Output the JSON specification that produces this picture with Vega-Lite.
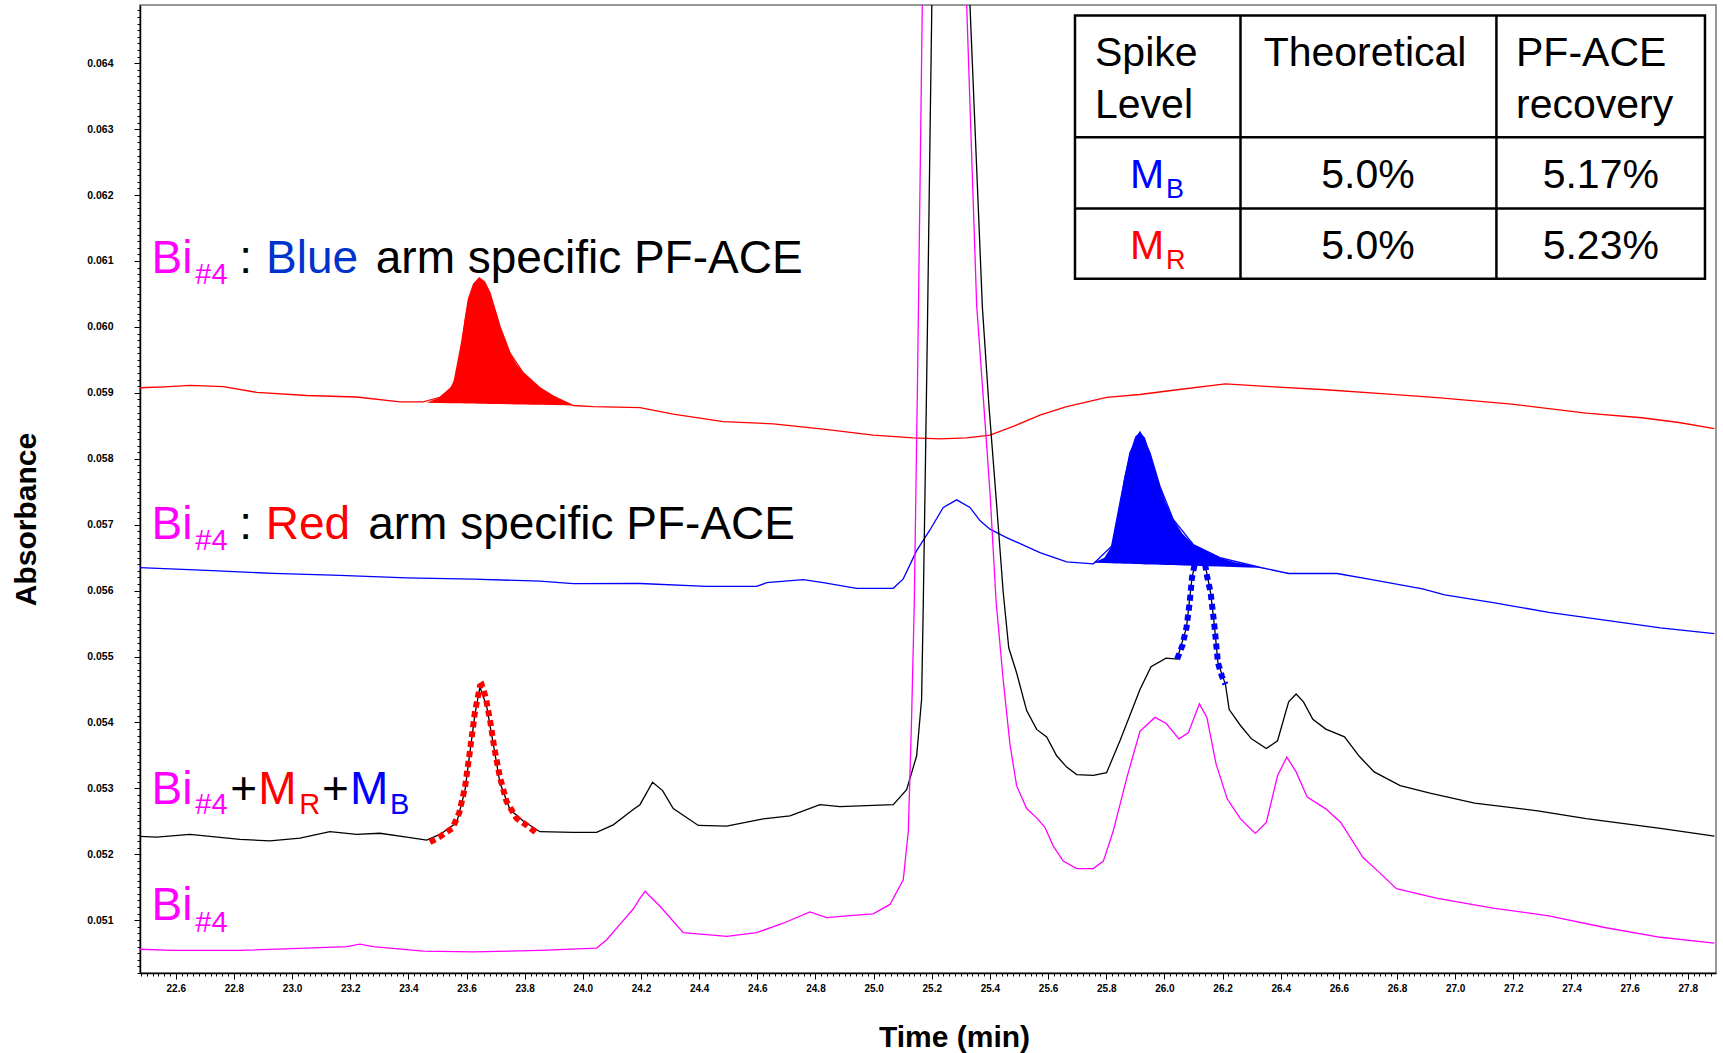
{
"$schema": "https://vega.github.io/schema/vega-lite/v6.json",
"width": 1576, "height": 968,
"autosize": "none",
"padding": {"left": 140, "top": 5, "right": 7, "bottom": 80},
"background": "white",
"config": {"view": {"stroke": "#777777", "strokeWidth": 1.5}, "font": "Liberation Sans"},
"datasets": {
"red": [{"t":22.4768,"a":0.059077},{"t":22.5622,"a":0.059092},{"t":22.6488,"a":0.059112},{"t":22.7633,"a":0.059093},{"t":22.8782,"a":0.059007},{"t":23.0501,"a":0.05896},{"t":23.2221,"a":0.058937},{"t":23.371,"a":0.058862},{"t":23.4511,"a":0.058862},{"t":23.5085,"a":0.058933},{"t":23.5543,"a":0.059102},{"t":23.583,"a":0.05976},{"t":23.6061,"a":0.060417},{"t":23.6242,"a":0.06065},{"t":23.6438,"a":0.060745},{"t":23.662,"a":0.060683},{"t":23.6805,"a":0.060518},{"t":23.7149,"a":0.060012},{"t":23.7493,"a":0.059608},{"t":23.795,"a":0.059305},{"t":23.8525,"a":0.059077},{"t":23.8982,"a":0.05895},{"t":23.9417,"a":0.058858},{"t":23.967,"a":0.058808},{"t":24.0361,"a":0.058792},{"t":24.1964,"a":0.058775},{"t":24.3109,"a":0.058678},{"t":24.4828,"a":0.058563},{"t":24.6548,"a":0.05853},{"t":24.8268,"a":0.05845},{"t":24.9987,"a":0.058358},{"t":25.1363,"a":0.058318},{"t":25.2281,"a":0.058302},{"t":25.32,"a":0.058318},{"t":25.4001,"a":0.058358},{"t":25.4802,"a":0.05849},{"t":25.572,"a":0.058662},{"t":25.6638,"a":0.058792},{"t":25.8014,"a":0.05893},{"t":25.9159,"a":0.058975},{"t":26.0437,"a":0.059047},{"t":26.21,"a":0.059135},{"t":26.3634,"a":0.059093},{"t":26.555,"a":0.059047},{"t":26.747,"a":0.058987},{"t":26.9386,"a":0.058928},{"t":27.1945,"a":0.058828},{"t":27.4504,"a":0.058692},{"t":27.642,"a":0.058622},{"t":27.7697,"a":0.05855},{"t":27.8914,"a":0.058457}],
"redfill": [{"t":23.4628,"a":0.05885,"b":0.05885},{"t":23.5085,"a":0.058933,"b":0.058846},{"t":23.5429,"a":0.059067,"b":0.058844},{"t":23.5599,"a":0.059217,"b":0.058843},{"t":23.5713,"a":0.059467,"b":0.058842},{"t":23.583,"a":0.05976,"b":0.058841},{"t":23.594,"a":0.060133,"b":0.05884},{"t":23.6061,"a":0.060417,"b":0.058839},{"t":23.6242,"a":0.06065,"b":0.058837},{"t":23.6438,"a":0.060745,"b":0.058835},{"t":23.662,"a":0.060683,"b":0.058834},{"t":23.6805,"a":0.060518,"b":0.058832},{"t":23.696,"a":0.0603,"b":0.058831},{"t":23.7149,"a":0.060012,"b":0.058829},{"t":23.7493,"a":0.059608,"b":0.058826},{"t":23.7716,"a":0.059433,"b":0.058825},{"t":23.795,"a":0.059305,"b":0.058823},{"t":23.8283,"a":0.059167,"b":0.05882},{"t":23.8525,"a":0.059077,"b":0.058818},{"t":23.8982,"a":0.05895,"b":0.058814},{"t":23.9417,"a":0.058858,"b":0.058811},{"t":23.967,"a":0.058808,"b":0.058808}],
"blue": [{"t":22.4768,"a":0.056348},{"t":22.7058,"a":0.056307},{"t":22.9352,"a":0.056262},{"t":23.1646,"a":0.056232},{"t":23.394,"a":0.056192},{"t":23.6231,"a":0.056173},{"t":23.8525,"a":0.056145},{"t":23.967,"a":0.056105},{"t":24.1964,"a":0.056108},{"t":24.4258,"a":0.056063},{"t":24.5977,"a":0.056063},{"t":24.6321,"a":0.05612},{"t":24.758,"a":0.056167},{"t":24.8268,"a":0.05612},{"t":24.9417,"a":0.056035},{"t":25.0675,"a":0.056035},{"t":25.1019,"a":0.056178},{"t":25.148,"a":0.056607},{"t":25.1937,"a":0.05692},{"t":25.2395,"a":0.057262},{"t":25.2856,"a":0.057377},{"t":25.3313,"a":0.057262},{"t":25.3657,"a":0.057063},{"t":25.4001,"a":0.056932},{"t":25.4572,"a":0.056805},{"t":25.572,"a":0.056577},{"t":25.6638,"a":0.056435},{"t":25.7557,"a":0.056407},{"t":25.8185,"a":0.056675},{"t":25.8472,"a":0.057333},{"t":25.8816,"a":0.058092},{"t":25.9159,"a":0.058405},{"t":25.9503,"a":0.058092},{"t":25.9847,"a":0.057585},{"t":26.0305,"a":0.05708},{"t":26.0992,"a":0.0567},{"t":26.1911,"a":0.0565},{"t":26.3343,"a":0.056347},{"t":26.4273,"a":0.05626},{"t":26.5936,"a":0.05626},{"t":26.7085,"a":0.056172},{"t":26.8876,"a":0.056025},{"t":26.9643,"a":0.055937},{"t":27.1306,"a":0.055818},{"t":27.3222,"a":0.05567},{"t":27.5142,"a":0.055553},{"t":27.7058,"a":0.055435},{"t":27.8914,"a":0.055347}],
"bluefill": [{"t":25.7553,"a":0.056423,"b":0.056423},{"t":25.7935,"a":0.0565,"b":0.056418},{"t":25.8185,"a":0.056675,"b":0.056415},{"t":25.8313,"a":0.056967,"b":0.056413},{"t":25.8472,"a":0.057333,"b":0.05641},{"t":25.8615,"a":0.057717,"b":0.056408},{"t":25.8816,"a":0.058092,"b":0.056407},{"t":25.8993,"a":0.058333,"b":0.056403},{"t":25.9159,"a":0.058405,"b":0.056402},{"t":25.9333,"a":0.058317,"b":0.056398},{"t":25.9503,"a":0.058092,"b":0.056397},{"t":25.9674,"a":0.057833,"b":0.056395},{"t":25.9847,"a":0.057585,"b":0.056392},{"t":26.0051,"a":0.057333,"b":0.05639},{"t":26.0305,"a":0.05708,"b":0.056387},{"t":26.0618,"a":0.056867,"b":0.056382},{"t":26.0992,"a":0.0567,"b":0.056377},{"t":26.1461,"a":0.0566,"b":0.05637},{"t":26.1911,"a":0.0565,"b":0.056365},{"t":26.2357,"a":0.056437,"b":0.056358},{"t":26.2848,"a":0.056392,"b":0.056352},{"t":26.3343,"a":0.056347,"b":0.056347}],
"black": [{"t":22.4768,"a":0.052273},{"t":22.5342,"a":0.052262},{"t":22.6488,"a":0.052302},{"t":22.8207,"a":0.052227},{"t":22.9239,"a":0.052203},{"t":23.0271,"a":0.052245},{"t":23.1302,"a":0.052343},{"t":23.2221,"a":0.052302},{"t":23.3022,"a":0.05232},{"t":23.394,"a":0.052262},{"t":23.4628,"a":0.052215},{"t":23.5085,"a":0.052302},{"t":23.566,"a":0.052477},{"t":23.5947,"a":0.05297},{"t":23.6117,"a":0.05355},{"t":23.6291,"a":0.05413},{"t":23.6461,"a":0.054537},{"t":23.6692,"a":0.054247},{"t":23.6922,"a":0.053667},{"t":23.7149,"a":0.053085},{"t":23.7493,"a":0.05268},{"t":23.795,"a":0.052505},{"t":23.8525,"a":0.052343},{"t":23.967,"a":0.052332},{"t":24.0471,"a":0.052332},{"t":24.1045,"a":0.052447},{"t":24.1733,"a":0.05268},{"t":24.1964,"a":0.052753},{"t":24.2398,"a":0.053095},{"t":24.2742,"a":0.052967},{"t":24.3109,"a":0.052695},{"t":24.3971,"a":0.052438},{"t":24.4946,"a":0.052427},{"t":24.6204,"a":0.052537},{"t":24.7123,"a":0.052582},{"t":24.8154,"a":0.052753},{"t":24.8842,"a":0.052725},{"t":25.0675,"a":0.052753},{"t":25.1136,"a":0.052982},{"t":25.148,"a":0.053495},{"t":25.165,"a":0.054352},{"t":25.1707,"a":0.055778},{"t":25.1767,"a":0.05749},{"t":25.185,"a":0.059967},{"t":25.1926,"a":0.062467},{"t":25.2002,"a":0.064883},{"t":25.2644,"a":0.0683},{"t":25.3313,"a":0.064883},{"t":25.374,"a":0.0603},{"t":25.3967,"a":0.0588},{"t":25.4231,"a":0.0573},{"t":25.4458,"a":0.055967},{"t":25.4647,"a":0.055133},{"t":25.4919,"a":0.05475},{"t":25.5263,"a":0.05418},{"t":25.5607,"a":0.053895},{"t":25.5951,"a":0.05378},{"t":25.6295,"a":0.053495},{"t":25.6638,"a":0.053323},{"t":25.6983,"a":0.05321},{"t":25.7557,"a":0.053198},{"t":25.8011,"a":0.053238},{"t":25.8472,"a":0.053723},{"t":25.8929,"a":0.054237},{"t":25.9159,"a":0.0545},{"t":25.9541,"a":0.054845},{"t":26.0055,"a":0.054975},{"t":26.0437,"a":0.054962},{"t":26.0758,"a":0.055435},{"t":26.0951,"a":0.056202},{"t":26.1072,"a":0.056433},{"t":26.1223,"a":0.05655},{"t":26.1374,"a":0.056433},{"t":26.1435,"a":0.05632},{"t":26.159,"a":0.055967},{"t":26.1714,"a":0.055493},{"t":26.1843,"a":0.054903},{"t":26.21,"a":0.054578},{"t":26.2228,"a":0.054195},{"t":26.261,"a":0.053958},{"t":26.2995,"a":0.053752},{"t":26.3506,"a":0.053605},{"t":26.3891,"a":0.053723},{"t":26.4273,"a":0.054313},{"t":26.453,"a":0.054432},{"t":26.4783,"a":0.054313},{"t":26.5105,"a":0.054047},{"t":26.555,"a":0.0539},{"t":26.6193,"a":0.053782},{"t":26.6703,"a":0.053487},{"t":26.7213,"a":0.05325},{"t":26.8109,"a":0.053043},{"t":26.9133,"a":0.052927},{"t":27.0668,"a":0.052778},{"t":27.2841,"a":0.05266},{"t":27.4504,"a":0.052543},{"t":27.7058,"a":0.052395},{"t":27.8914,"a":0.052277}],
"magenta": [{"t":22.4768,"a":0.05056},{"t":22.5913,"a":0.050543},{"t":22.8207,"a":0.050543},{"t":23.0501,"a":0.050578},{"t":23.1877,"a":0.0506},{"t":23.2334,"a":0.050637},{"t":23.2791,"a":0.0506},{"t":23.4511,"a":0.050532},{"t":23.6231,"a":0.05052},{"t":23.8525,"a":0.050543},{"t":24.0475,"a":0.050578},{"t":24.0819,"a":0.050705},{"t":24.1276,"a":0.050938},{"t":24.1733,"a":0.05117},{"t":24.1964,"a":0.051333},{"t":24.2138,"a":0.05144},{"t":24.2652,"a":0.051212},{"t":24.3453,"a":0.050812},{"t":24.4258,"a":0.050783},{"t":24.4946,"a":0.050755},{"t":24.5977,"a":0.050812},{"t":24.6892,"a":0.050955},{"t":24.781,"a":0.051127},{"t":24.8385,"a":0.05104},{"t":24.9073,"a":0.051068},{"t":24.9987,"a":0.051097},{"t":25.0562,"a":0.05124},{"t":25.1019,"a":0.051612},{"t":25.1193,"a":0.052353},{"t":25.1306,"a":0.054067},{"t":25.1397,"a":0.055783},{"t":25.151,"a":0.0592},{"t":25.1605,"a":0.062467},{"t":25.1673,"a":0.064883},{"t":25.2455,"a":0.0683},{"t":25.32,"a":0.064883},{"t":25.3544,"a":0.060325},{"t":25.3827,"a":0.058583},{"t":25.4005,"a":0.057467},{"t":25.4212,"a":0.055833},{"t":25.4458,"a":0.054637},{"t":25.4689,"a":0.053667},{"t":25.4919,"a":0.053038},{"t":25.5263,"a":0.052695},{"t":25.5607,"a":0.052553},{"t":25.5891,"a":0.05241},{"t":25.6178,"a":0.052125},{"t":25.6522,"a":0.051897},{"t":25.6983,"a":0.051783},{"t":25.7557,"a":0.051783},{"t":25.7901,"a":0.051897},{"t":25.8241,"a":0.052353},{"t":25.8702,"a":0.053152},{"t":25.9159,"a":0.053867},{"t":25.9674,"a":0.054077},{"t":26.0055,"a":0.053988},{"t":26.0501,"a":0.053752},{"t":26.0822,"a":0.053842},{"t":26.1204,"a":0.054283},{"t":26.1461,"a":0.054077},{"t":26.1778,"a":0.053368},{"t":26.2164,"a":0.052838},{"t":26.261,"a":0.052542},{"t":26.3124,"a":0.052318},{"t":26.3506,"a":0.052483},{"t":26.3891,"a":0.053192},{"t":26.4209,"a":0.053475},{"t":26.453,"a":0.05325},{"t":26.4912,"a":0.052867},{"t":26.555,"a":0.05269},{"t":26.6065,"a":0.052483},{"t":26.6832,"a":0.051952},{"t":26.7342,"a":0.051745},{"t":26.7981,"a":0.05148},{"t":26.9386,"a":0.051333},{"t":27.1306,"a":0.051185},{"t":27.3222,"a":0.051067},{"t":27.5142,"a":0.05089},{"t":27.7058,"a":0.050742},{"t":27.8914,"a":0.050653}],
"reddot": [{"t":23.4742,"a":0.052185},{"t":23.5085,"a":0.052267},{"t":23.5524,"a":0.0524},{"t":23.5751,"a":0.052633},{"t":23.5947,"a":0.053017},{"t":23.6117,"a":0.053567},{"t":23.6291,"a":0.054167},{"t":23.6461,"a":0.05455},{"t":23.6525,"a":0.054567},{"t":23.6658,"a":0.054383},{"t":23.6809,"a":0.054033},{"t":23.696,"a":0.0536},{"t":23.7149,"a":0.053167},{"t":23.7376,"a":0.0528},{"t":23.7716,"a":0.05255},{"t":23.8094,"a":0.052433},{"t":23.8468,"a":0.052302}],
"bluedot": [{"t":26.0437,"a":0.054962},{"t":26.0618,"a":0.055167},{"t":26.0758,"a":0.055435},{"t":26.0864,"a":0.0558},{"t":26.0951,"a":0.056202},{"t":26.1072,"a":0.056467},{"t":26.1223,"a":0.05655},{"t":26.1374,"a":0.056467},{"t":26.1469,"a":0.056217},{"t":26.159,"a":0.055967},{"t":26.1714,"a":0.055493},{"t":26.1843,"a":0.054903},{"t":26.1979,"a":0.0547},{"t":26.21,"a":0.054578}]
},
"layer": [
{"data": {"name": "red"}, "mark": {"type": "line", "color": "#FF0000", "strokeWidth": 1.3, "clip": true},
 "encoding": {
  "x": {"field": "t", "type": "quantitative", "scale": {"domain": [22.477, 27.897], "nice": false, "zero": false},
   "axis": {"title": "Time (min)", "tickCount": 271, "grid": false, "labelOverlap": false,
    "labelExpr": "abs(datum.value*5 - round(datum.value*5)) < 0.01 ? format(datum.value, '.1f') : ''",
    "tickSize": {"condition": {"test": "abs(datum.value*5 - round(datum.value*5)) < 0.01", "value": 6}, "value": 3},
    "labelFont": "Liberation Sans", "labelFontSize": 10, "labelFontWeight": "bold", "labelColor": "#000000", "labelPadding": 4,
    "tickColor": "#000000", "domainColor": "#000000", "domainWidth": 1.5,
    "titleFont": "Liberation Sans", "titleFontSize": 30, "titleFontWeight": "bold", "titleColor": "#000000",
    "titleX": 814, "titleY": 73, "titleAlign": "center", "titleBaseline": "alphabetic"}},
  "y": {"field": "a", "type": "quantitative", "scale": {"domain": [0.0502, 0.064883], "nice": false, "zero": false},
   "axis": {"title": "Absorbance", "tickCount": 147, "grid": false, "labelOverlap": false,
    "labelExpr": "abs(datum.value*1000 - round(datum.value*1000)) < 0.01 ? format(datum.value, '.3f') : ''",
    "tickSize": {"condition": {"test": "abs(datum.value*1000 - round(datum.value*1000)) < 0.01", "value": 6}, "value": 3},
    "labelFont": "Liberation Sans", "labelFontSize": 10.5, "labelFontWeight": "bold", "labelColor": "#000000", "labelPadding": 21,
    "tickColor": "#000000", "domainColor": "#000000", "domainWidth": 1.5,
    "titleFont": "Liberation Sans", "titleFontSize": 30, "titleFontWeight": "bold", "titleColor": "#000000",
    "titleAngle": -90, "titleX": -114, "titleY": 514, "titleAlign": "center", "titleBaseline": "middle"}}}},
{"data": {"name": "blue"}, "mark": {"type": "line", "color": "#0000FF", "strokeWidth": 1.3, "clip": true},
 "encoding": {"x": {"field": "t", "type": "quantitative", "scale": {"domain": [22.477, 27.897], "nice": false, "zero": false}},
  "y": {"field": "a", "type": "quantitative", "scale": {"domain": [0.0502, 0.064883], "nice": false, "zero": false}}}},
{"data": {"name": "black"}, "mark": {"type": "line", "color": "#000000", "strokeWidth": 1.3, "clip": true},
 "encoding": {"x": {"field": "t", "type": "quantitative", "scale": {"domain": [22.477, 27.897], "nice": false, "zero": false}},
  "y": {"field": "a", "type": "quantitative", "scale": {"domain": [0.0502, 0.064883], "nice": false, "zero": false}}}},
{"data": {"name": "magenta"}, "mark": {"type": "line", "color": "#FF00FF", "strokeWidth": 1.3, "clip": true},
 "encoding": {"x": {"field": "t", "type": "quantitative", "scale": {"domain": [22.477, 27.897], "nice": false, "zero": false}},
  "y": {"field": "a", "type": "quantitative", "scale": {"domain": [0.0502, 0.064883], "nice": false, "zero": false}}}},
{"data": {"name": "reddot"}, "mark": {"type": "line", "color": "#FF0000", "strokeWidth": 6, "strokeDash": [6, 4], "strokeCap": "butt", "clip": true},
 "encoding": {"x": {"field": "t", "type": "quantitative", "scale": {"domain": [22.477, 27.897], "nice": false, "zero": false}},
  "y": {"field": "a", "type": "quantitative", "scale": {"domain": [0.0502, 0.064883], "nice": false, "zero": false}}}},
{"data": {"name": "bluedot"}, "mark": {"type": "line", "color": "#0000FF", "strokeWidth": 6, "strokeDash": [6, 4], "strokeCap": "butt", "clip": true},
 "encoding": {"x": {"field": "t", "type": "quantitative", "scale": {"domain": [22.477, 27.897], "nice": false, "zero": false}},
  "y": {"field": "a", "type": "quantitative", "scale": {"domain": [0.0502, 0.064883], "nice": false, "zero": false}}}},
{"data": {"name": "redfill"}, "mark": {"type": "area", "color": "#FF0000", "opacity": 1, "clip": true},
 "encoding": {"x": {"field": "t", "type": "quantitative", "scale": {"domain": [22.477, 27.897], "nice": false, "zero": false}},
  "y": {"field": "a", "type": "quantitative", "scale": {"domain": [0.0502, 0.064883], "nice": false, "zero": false}},
  "y2": {"field": "b"}}},
{"data": {"name": "bluefill"}, "mark": {"type": "area", "color": "#0000FF", "opacity": 1, "clip": true},
 "encoding": {"x": {"field": "t", "type": "quantitative", "scale": {"domain": [22.477, 27.897], "nice": false, "zero": false}},
  "y": {"field": "a", "type": "quantitative", "scale": {"domain": [0.0502, 0.064883], "nice": false, "zero": false}},
  "y2": {"field": "b"}}},

{"data": {"values": [{}]}, "mark": {"type": "text", "text": "Bi", "font": "Liberation Sans", "fontSize": 46, "color": "#FF00FF", "align": "left", "baseline": "alphabetic"}, "encoding": {"x": {"datum": 22.5168, "type": "quantitative", "scale": {"domain": [22.477, 27.897], "nice": false, "zero": false}}, "y": {"datum": 0.060822, "type": "quantitative", "scale": {"domain": [0.0502, 0.064883], "nice": false, "zero": false}}}},
{"data": {"values": [{}]}, "mark": {"type": "text", "text": "#4", "font": "Liberation Sans", "fontSize": 29, "color": "#FF00FF", "align": "left", "baseline": "alphabetic"}, "encoding": {"x": {"datum": 22.6674, "type": "quantitative", "scale": {"domain": [22.477, 27.897], "nice": false, "zero": false}}, "y": {"datum": 0.060644, "type": "quantitative", "scale": {"domain": [0.0502, 0.064883], "nice": false, "zero": false}}}},
{"data": {"values": [{}]}, "mark": {"type": "text", "text": ":", "font": "Liberation Sans", "fontSize": 46, "color": "#000000", "align": "left", "baseline": "alphabetic"}, "encoding": {"x": {"datum": 22.8187, "type": "quantitative", "scale": {"domain": [22.477, 27.897], "nice": false, "zero": false}}, "y": {"datum": 0.060822, "type": "quantitative", "scale": {"domain": [0.0502, 0.064883], "nice": false, "zero": false}}}},
{"data": {"values": [{}]}, "mark": {"type": "text", "text": "Blue", "font": "Liberation Sans", "fontSize": 46, "color": "#0033CC", "align": "left", "baseline": "alphabetic"}, "encoding": {"x": {"datum": 22.9106, "type": "quantitative", "scale": {"domain": [22.477, 27.897], "nice": false, "zero": false}}, "y": {"datum": 0.060822, "type": "quantitative", "scale": {"domain": [0.0502, 0.064883], "nice": false, "zero": false}}}},
{"data": {"values": [{}]}, "mark": {"type": "text", "text": "arm specific PF-ACE", "font": "Liberation Sans", "fontSize": 46, "color": "#000000", "align": "left", "baseline": "alphabetic"}, "encoding": {"x": {"datum": 23.2878, "type": "quantitative", "scale": {"domain": [22.477, 27.897], "nice": false, "zero": false}}, "y": {"datum": 0.060822, "type": "quantitative", "scale": {"domain": [0.0502, 0.064883], "nice": false, "zero": false}}}},

{"data": {"values": [{}]}, "mark": {"type": "text", "text": "Bi", "font": "Liberation Sans", "fontSize": 46, "color": "#FF00FF", "align": "left", "baseline": "alphabetic"}, "encoding": {"x": {"datum": 22.5168, "type": "quantitative", "scale": {"domain": [22.477, 27.897], "nice": false, "zero": false}}, "y": {"datum": 0.056777, "type": "quantitative", "scale": {"domain": [0.0502, 0.064883], "nice": false, "zero": false}}}},
{"data": {"values": [{}]}, "mark": {"type": "text", "text": "#4", "font": "Liberation Sans", "fontSize": 29, "color": "#FF00FF", "align": "left", "baseline": "alphabetic"}, "encoding": {"x": {"datum": 22.6674, "type": "quantitative", "scale": {"domain": [22.477, 27.897], "nice": false, "zero": false}}, "y": {"datum": 0.05661, "type": "quantitative", "scale": {"domain": [0.0502, 0.064883], "nice": false, "zero": false}}}},
{"data": {"values": [{}]}, "mark": {"type": "text", "text": ":", "font": "Liberation Sans", "fontSize": 46, "color": "#000000", "align": "left", "baseline": "alphabetic"}, "encoding": {"x": {"datum": 22.8187, "type": "quantitative", "scale": {"domain": [22.477, 27.897], "nice": false, "zero": false}}, "y": {"datum": 0.056777, "type": "quantitative", "scale": {"domain": [0.0502, 0.064883], "nice": false, "zero": false}}}},
{"data": {"values": [{}]}, "mark": {"type": "text", "text": "Red", "font": "Liberation Sans", "fontSize": 46, "color": "#FF0000", "align": "left", "baseline": "alphabetic"}, "encoding": {"x": {"datum": 22.9095, "type": "quantitative", "scale": {"domain": [22.477, 27.897], "nice": false, "zero": false}}, "y": {"datum": 0.056777, "type": "quantitative", "scale": {"domain": [0.0502, 0.064883], "nice": false, "zero": false}}}},
{"data": {"values": [{}]}, "mark": {"type": "text", "text": "arm specific PF-ACE", "font": "Liberation Sans", "fontSize": 46, "color": "#000000", "align": "left", "baseline": "alphabetic"}, "encoding": {"x": {"datum": 23.2617, "type": "quantitative", "scale": {"domain": [22.477, 27.897], "nice": false, "zero": false}}, "y": {"datum": 0.056777, "type": "quantitative", "scale": {"domain": [0.0502, 0.064883], "nice": false, "zero": false}}}},

{"data": {"values": [{}]}, "mark": {"type": "text", "text": "Bi", "font": "Liberation Sans", "fontSize": 46, "color": "#FF00FF", "align": "left", "baseline": "alphabetic"}, "encoding": {"x": {"datum": 22.5168, "type": "quantitative", "scale": {"domain": [22.477, 27.897], "nice": false, "zero": false}}, "y": {"datum": 0.052767, "type": "quantitative", "scale": {"domain": [0.0502, 0.064883], "nice": false, "zero": false}}}},
{"data": {"values": [{}]}, "mark": {"type": "text", "text": "#4", "font": "Liberation Sans", "fontSize": 29, "color": "#FF00FF", "align": "left", "baseline": "alphabetic"}, "encoding": {"x": {"datum": 22.6674, "type": "quantitative", "scale": {"domain": [22.477, 27.897], "nice": false, "zero": false}}, "y": {"datum": 0.052606, "type": "quantitative", "scale": {"domain": [0.0502, 0.064883], "nice": false, "zero": false}}}},
{"data": {"values": [{}]}, "mark": {"type": "text", "text": "+", "font": "Liberation Sans", "fontSize": 46, "color": "#000000", "align": "left", "baseline": "alphabetic"}, "encoding": {"x": {"datum": 22.7878, "type": "quantitative", "scale": {"domain": [22.477, 27.897], "nice": false, "zero": false}}, "y": {"datum": 0.052767, "type": "quantitative", "scale": {"domain": [0.0502, 0.064883], "nice": false, "zero": false}}}},
{"data": {"values": [{}]}, "mark": {"type": "text", "text": "M", "font": "Liberation Sans", "fontSize": 46, "color": "#FF0000", "align": "left", "baseline": "alphabetic"}, "encoding": {"x": {"datum": 22.8837, "type": "quantitative", "scale": {"domain": [22.477, 27.897], "nice": false, "zero": false}}, "y": {"datum": 0.052767, "type": "quantitative", "scale": {"domain": [0.0502, 0.064883], "nice": false, "zero": false}}}},
{"data": {"values": [{}]}, "mark": {"type": "text", "text": "R", "font": "Liberation Sans", "fontSize": 29, "color": "#FF0000", "align": "left", "baseline": "alphabetic"}, "encoding": {"x": {"datum": 23.0251, "type": "quantitative", "scale": {"domain": [22.477, 27.897], "nice": false, "zero": false}}, "y": {"datum": 0.052606, "type": "quantitative", "scale": {"domain": [0.0502, 0.064883], "nice": false, "zero": false}}}},
{"data": {"values": [{}]}, "mark": {"type": "text", "text": "+", "font": "Liberation Sans", "fontSize": 46, "color": "#000000", "align": "left", "baseline": "alphabetic"}, "encoding": {"x": {"datum": 23.1028, "type": "quantitative", "scale": {"domain": [22.477, 27.897], "nice": false, "zero": false}}, "y": {"datum": 0.052767, "type": "quantitative", "scale": {"domain": [0.0502, 0.064883], "nice": false, "zero": false}}}},
{"data": {"values": [{}]}, "mark": {"type": "text", "text": "M", "font": "Liberation Sans", "fontSize": 46, "color": "#0000FF", "align": "left", "baseline": "alphabetic"}, "encoding": {"x": {"datum": 23.1988, "type": "quantitative", "scale": {"domain": [22.477, 27.897], "nice": false, "zero": false}}, "y": {"datum": 0.052767, "type": "quantitative", "scale": {"domain": [0.0502, 0.064883], "nice": false, "zero": false}}}},
{"data": {"values": [{}]}, "mark": {"type": "text", "text": "B", "font": "Liberation Sans", "fontSize": 29, "color": "#0000FF", "align": "left", "baseline": "alphabetic"}, "encoding": {"x": {"datum": 23.3367, "type": "quantitative", "scale": {"domain": [22.477, 27.897], "nice": false, "zero": false}}, "y": {"datum": 0.052606, "type": "quantitative", "scale": {"domain": [0.0502, 0.064883], "nice": false, "zero": false}}}},

{"data": {"values": [{}]}, "mark": {"type": "text", "text": "Bi", "font": "Liberation Sans", "fontSize": 46, "color": "#FF00FF", "align": "left", "baseline": "alphabetic"}, "encoding": {"x": {"datum": 22.5168, "type": "quantitative", "scale": {"domain": [22.477, 27.897], "nice": false, "zero": false}}, "y": {"datum": 0.050998, "type": "quantitative", "scale": {"domain": [0.0502, 0.064883], "nice": false, "zero": false}}}},
{"data": {"values": [{}]}, "mark": {"type": "text", "text": "#4", "font": "Liberation Sans", "fontSize": 29, "color": "#FF00FF", "align": "left", "baseline": "alphabetic"}, "encoding": {"x": {"datum": 22.6674, "type": "quantitative", "scale": {"domain": [22.477, 27.897], "nice": false, "zero": false}}, "y": {"datum": 0.050816, "type": "quantitative", "scale": {"domain": [0.0502, 0.064883], "nice": false, "zero": false}}}},

{"data": {"values": [{}]}, "mark": {"type": "rect", "fill": "#FFFFFF", "stroke": "#000000", "strokeWidth": 2.5}, "encoding": {"x": {"datum": 25.6925, "type": "quantitative", "scale": {"domain": [22.477, 27.897], "nice": false, "zero": false}}, "x2": {"datum": 27.8591}, "y": {"datum": 0.064724, "type": "quantitative", "scale": {"domain": [0.0502, 0.064883], "nice": false, "zero": false}}, "y2": {"datum": 0.060731}}},
{"data": {"values": [{}]}, "mark": {"type": "rule", "color": "#000000", "strokeWidth": 2.5}, "encoding": {"x": {"datum": 26.2617, "type": "quantitative", "scale": {"domain": [22.477, 27.897], "nice": false, "zero": false}}, "y": {"datum": 0.064724, "type": "quantitative", "scale": {"domain": [0.0502, 0.064883], "nice": false, "zero": false}}, "y2": {"datum": 0.060731}}},
{"data": {"values": [{}]}, "mark": {"type": "rule", "color": "#000000", "strokeWidth": 2.5}, "encoding": {"x": {"datum": 27.1418, "type": "quantitative", "scale": {"domain": [22.477, 27.897], "nice": false, "zero": false}}, "y": {"datum": 0.064724, "type": "quantitative", "scale": {"domain": [0.0502, 0.064883], "nice": false, "zero": false}}, "y2": {"datum": 0.060731}}},
{"data": {"values": [{}]}, "mark": {"type": "rule", "color": "#000000", "strokeWidth": 2.5}, "encoding": {"x": {"datum": 25.6925, "type": "quantitative", "scale": {"domain": [22.477, 27.897], "nice": false, "zero": false}}, "x2": {"datum": 27.8591}, "y": {"datum": 0.062878, "type": "quantitative", "scale": {"domain": [0.0502, 0.064883], "nice": false, "zero": false}}}},
{"data": {"values": [{}]}, "mark": {"type": "rule", "color": "#000000", "strokeWidth": 2.5}, "encoding": {"x": {"datum": 25.6925, "type": "quantitative", "scale": {"domain": [22.477, 27.897], "nice": false, "zero": false}}, "x2": {"datum": 27.8591}, "y": {"datum": 0.061797, "type": "quantitative", "scale": {"domain": [0.0502, 0.064883], "nice": false, "zero": false}}}},

{"data": {"values": [{}]}, "mark": {"type": "text", "text": "Spike", "font": "Liberation Sans", "fontSize": 41, "color": "#000000", "align": "left", "baseline": "alphabetic"}, "encoding": {"x": {"datum": 25.7613, "type": "quantitative", "scale": {"domain": [22.477, 27.897], "nice": false, "zero": false}}, "y": {"datum": 0.063955, "type": "quantitative", "scale": {"domain": [0.0502, 0.064883], "nice": false, "zero": false}}}},
{"data": {"values": [{}]}, "mark": {"type": "text", "text": "Level", "font": "Liberation Sans", "fontSize": 41, "color": "#000000", "align": "left", "baseline": "alphabetic"}, "encoding": {"x": {"datum": 25.7613, "type": "quantitative", "scale": {"domain": [22.477, 27.897], "nice": false, "zero": false}}, "y": {"datum": 0.063172, "type": "quantitative", "scale": {"domain": [0.0502, 0.064883], "nice": false, "zero": false}}}},
{"data": {"values": [{}]}, "mark": {"type": "text", "text": "Theoretical", "font": "Liberation Sans", "fontSize": 41, "color": "#000000", "align": "center", "baseline": "alphabetic"}, "encoding": {"x": {"datum": 26.69, "type": "quantitative", "scale": {"domain": [22.477, 27.897], "nice": false, "zero": false}}, "y": {"datum": 0.063955, "type": "quantitative", "scale": {"domain": [0.0502, 0.064883], "nice": false, "zero": false}}}},
{"data": {"values": [{}]}, "mark": {"type": "text", "text": "PF-ACE", "font": "Liberation Sans", "fontSize": 41, "color": "#000000", "align": "left", "baseline": "alphabetic"}, "encoding": {"x": {"datum": 27.2092, "type": "quantitative", "scale": {"domain": [22.477, 27.897], "nice": false, "zero": false}}, "y": {"datum": 0.063955, "type": "quantitative", "scale": {"domain": [0.0502, 0.064883], "nice": false, "zero": false}}}},
{"data": {"values": [{}]}, "mark": {"type": "text", "text": "recovery", "font": "Liberation Sans", "fontSize": 41, "color": "#000000", "align": "left", "baseline": "alphabetic"}, "encoding": {"x": {"datum": 27.2092, "type": "quantitative", "scale": {"domain": [22.477, 27.897], "nice": false, "zero": false}}, "y": {"datum": 0.063172, "type": "quantitative", "scale": {"domain": [0.0502, 0.064883], "nice": false, "zero": false}}}},
{"data": {"values": [{}]}, "mark": {"type": "text", "text": "M", "font": "Liberation Sans", "fontSize": 41, "color": "#0000FF", "align": "left", "baseline": "alphabetic"}, "encoding": {"x": {"datum": 25.8816, "type": "quantitative", "scale": {"domain": [22.477, 27.897], "nice": false, "zero": false}}, "y": {"datum": 0.062111, "type": "quantitative", "scale": {"domain": [0.0502, 0.064883], "nice": false, "zero": false}}}},
{"data": {"values": [{}]}, "mark": {"type": "text", "text": "B", "font": "Liberation Sans", "fontSize": 27, "color": "#0000FF", "align": "left", "baseline": "alphabetic"}, "encoding": {"x": {"datum": 26.0055, "type": "quantitative", "scale": {"domain": [22.477, 27.897], "nice": false, "zero": false}}, "y": {"datum": 0.061949, "type": "quantitative", "scale": {"domain": [0.0502, 0.064883], "nice": false, "zero": false}}}},
{"data": {"values": [{}]}, "mark": {"type": "text", "text": "5.0%", "font": "Liberation Sans", "fontSize": 41, "color": "#000000", "align": "center", "baseline": "alphabetic"}, "encoding": {"x": {"datum": 26.7, "type": "quantitative", "scale": {"domain": [22.477, 27.897], "nice": false, "zero": false}}, "y": {"datum": 0.062111, "type": "quantitative", "scale": {"domain": [0.0502, 0.064883], "nice": false, "zero": false}}}},
{"data": {"values": [{}]}, "mark": {"type": "text", "text": "5.17%", "font": "Liberation Sans", "fontSize": 41, "color": "#000000", "align": "center", "baseline": "alphabetic"}, "encoding": {"x": {"datum": 27.5008, "type": "quantitative", "scale": {"domain": [22.477, 27.897], "nice": false, "zero": false}}, "y": {"datum": 0.062111, "type": "quantitative", "scale": {"domain": [0.0502, 0.064883], "nice": false, "zero": false}}}},
{"data": {"values": [{}]}, "mark": {"type": "text", "text": "M", "font": "Liberation Sans", "fontSize": 41, "color": "#FF0000", "align": "left", "baseline": "alphabetic"}, "encoding": {"x": {"datum": 25.8816, "type": "quantitative", "scale": {"domain": [22.477, 27.897], "nice": false, "zero": false}}, "y": {"datum": 0.061034, "type": "quantitative", "scale": {"domain": [0.0502, 0.064883], "nice": false, "zero": false}}}},
{"data": {"values": [{}]}, "mark": {"type": "text", "text": "R", "font": "Liberation Sans", "fontSize": 27, "color": "#FF0000", "align": "left", "baseline": "alphabetic"}, "encoding": {"x": {"datum": 26.0055, "type": "quantitative", "scale": {"domain": [22.477, 27.897], "nice": false, "zero": false}}, "y": {"datum": 0.060882, "type": "quantitative", "scale": {"domain": [0.0502, 0.064883], "nice": false, "zero": false}}}},
{"data": {"values": [{}]}, "mark": {"type": "text", "text": "5.0%", "font": "Liberation Sans", "fontSize": 41, "color": "#000000", "align": "center", "baseline": "alphabetic"}, "encoding": {"x": {"datum": 26.7, "type": "quantitative", "scale": {"domain": [22.477, 27.897], "nice": false, "zero": false}}, "y": {"datum": 0.061034, "type": "quantitative", "scale": {"domain": [0.0502, 0.064883], "nice": false, "zero": false}}}},
{"data": {"values": [{}]}, "mark": {"type": "text", "text": "5.23%", "font": "Liberation Sans", "fontSize": 41, "color": "#000000", "align": "center", "baseline": "alphabetic"}, "encoding": {"x": {"datum": 27.5008, "type": "quantitative", "scale": {"domain": [22.477, 27.897], "nice": false, "zero": false}}, "y": {"datum": 0.061034, "type": "quantitative", "scale": {"domain": [0.0502, 0.064883], "nice": false, "zero": false}}}}
]
}
